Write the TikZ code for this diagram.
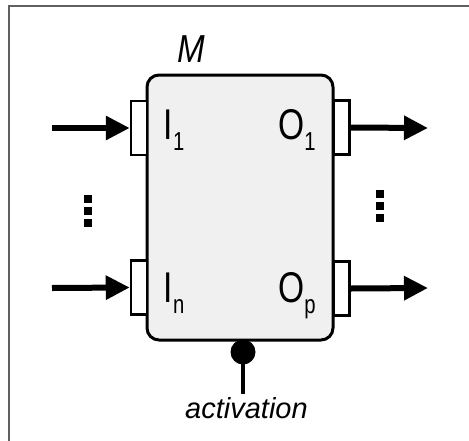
\documentclass[tikz,border=0pt]{standalone}
\usepackage{graphicx}
\usepackage{fontspec}
\setmainfont{Liberation Sans}
\usepackage{tikz}
\usetikzlibrary{arrows.meta,positioning}

\newcommand{\portlbl}[2]{\scalebox{0.78}[1]{\fontsize{43}{43}\selectfont #1\lower11pt\hbox{\fontsize{26}{26}\selectfont #2}}}

\tikzset{
  block/.style={draw,line width=3pt,rounded corners=12pt,fill=gray!12,
    minimum width=186pt,minimum height=265pt,inner sep=0pt},
  port/.style={draw,line width=2.5pt,fill=white,minimum width=16pt,
    minimum height=54pt,inner sep=0pt},
  flow/.style={line width=6pt,-{Triangle[length=24pt,width=23pt]}},
  lbl/.style={inner sep=0pt,anchor=base west},
}

\begin{document}
\begin{tikzpicture}[x=1pt,y=-1pt]
  \useasboundingbox (0,0) rectangle (469,440);
  \draw[gray!75!black,line width=1.3pt] (9,441) -- (9,6) -- (470,6);
  % module
  \node[block] (mod) at (240,207.5) {};
  \node[inner sep=0pt,anchor=base] (mname) at (191,62)
    {\scalebox{0.85}[1]{\fontsize{39}{39}\selectfont\itshape M}};
  % ports
  \node[port] (in1) at (139,128) {};
  \node[port] (inn) at (139,287.5) {};
  \node[port] (out1) at (341.5,127.5) {};
  \node[port] (outp) at (341.5,288.5) {};
  \node[lbl] (l1) at (163.5,139.5) {\portlbl{I}{1}};
  \node[lbl] (ln) at (163.5,302) {\portlbl{I}{n}};
  \node[lbl] (r1) at (278,139.5) {\portlbl{O}{1}};
  \node[lbl] (rp) at (278,302) {\portlbl{O}{p}};
  % arrows
  \coordinate (src1) at (52,128);
  \coordinate (srcn) at (52,288);
  \coordinate (dst1) at (428,128);
  \coordinate (dstp) at (428,288);
  \draw[flow] (src1) -- (in1.west);
  \draw[flow] (srcn) -- (inn.west);
  \draw[flow] (out1.east) -- (dst1);
  \draw[flow] (outp.east) -- (dstp);
  % vertical dots
  \foreach \k in {0,1,2} {
    \fill (84,195+12*\k) rectangle +(8,8);
    \fill (376,190+12*\k) rectangle +(8,8);
  }
  % activation
  \node[circle,fill=black,minimum size=25pt,inner sep=0pt] (act) at (243,352) {};
  \coordinate (actend) at (243,394);
  \draw[line width=3.3pt] (act.center) -- (actend);
  \node[inner sep=0pt,anchor=base] (actlbl) at (246.5,418)
    {\fontsize{29}{29}\selectfont\itshape activation};
\end{tikzpicture}
\end{document}
